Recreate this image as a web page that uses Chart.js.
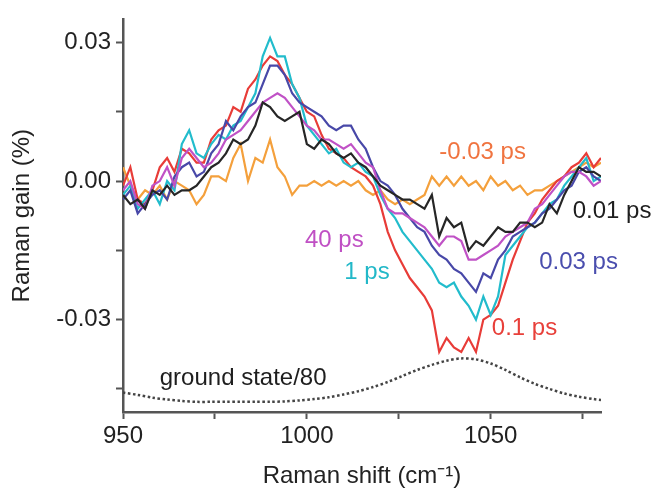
<!DOCTYPE html>
<html>
<head>
<meta charset="utf-8">
<script src="https://cdn.jsdelivr.net/npm/chart.js@4/dist/chart.umd.min.js"></script>
<style>
  html, body { margin: 0; padding: 0; background: #fff; }
  canvas { display: block; }
</style>
</head>
<body>
<canvas id="ramanChart" width="659" height="493"></canvas>
<script>
// Raman shift (cm-1), sampled every 2 cm-1
var shift = [950,952,954,956,958,960,962,964,966,968,
             970,972,974,976,978,980,982,984,986,988,
             990,992,994,996,998,1000,1002,1004,1006,1008,
             1010,1012,1014,1016,1018,1020,1022,1024,1026,1028,
             1030,1032,1034,1036,1038,1040,1042,1044,1046,1048,
             1050,1052,1054,1056,1058,1060,1062,1064,1066,1068,
             1070,1072,1074,1076,1078,1080];

// Raman gain (%) for each delay
var gainMinus003 = [0.003,-0.001,-0.004,-0.002,-0.003,-0.001,-0.004,0.000,-0.001,-0.002,
                    -0.005,-0.003,0.001,0.001,0.000,0.005,0.008,0.000,0.005,0.004,
                    0.009,0.003,0.001,-0.003,-0.001,-0.001,0.000,-0.001,0.000,-0.001,
                    0.000,-0.001,0.000,-0.002,-0.003,-0.002,-0.004,-0.005,-0.004,-0.005,
                    -0.004,-0.003,0.001,-0.001,0.001,-0.001,0.001,-0.001,0.000,-0.002,
                    0.001,-0.001,0.000,-0.002,-0.001,-0.003,-0.002,-0.002,-0.001,0.000,
                    0.001,0.002,0.003,0.004,0.003,0.004];
var gain001 = [-0.003,-0.005,-0.004,-0.006,-0.002,-0.003,-0.001,-0.003,-0.002,-0.002,
               -0.001,0.001,0.003,0.004,0.006,0.009,0.008,0.009,0.012,0.017,
               0.016,0.014,0.013,0.014,0.015,0.008,0.007,0.009,0.008,0.006,
               0.005,0.006,0.004,0.003,0.001,-0.001,-0.002,-0.003,-0.004,-0.004,
               -0.005,-0.006,-0.003,-0.012,-0.008,-0.010,-0.009,-0.015,-0.013,-0.014,
               -0.012,-0.010,-0.011,-0.011,-0.009,-0.009,-0.010,-0.009,-0.005,-0.007,
               -0.003,0.000,0.003,0.002,0.002,0.001];
var gain003 = [-0.004,-0.002,-0.007,-0.005,-0.003,-0.002,-0.004,0.001,0.003,0.004,
               0.001,0.002,0.006,0.008,0.013,0.011,0.014,0.016,0.017,0.021,
               0.025,0.025,0.023,0.019,0.017,0.016,0.015,0.014,0.012,0.011,
               0.012,0.012,0.009,0.007,0.003,0.000,-0.001,-0.003,-0.006,-0.008,
               -0.010,-0.011,-0.014,-0.016,-0.017,-0.019,-0.020,-0.022,-0.024,-0.020,
               -0.021,-0.017,-0.015,-0.012,-0.011,-0.010,-0.009,-0.007,-0.006,-0.004,
               -0.002,-0.001,0.002,0.003,0.001,0.000];
var gain01 = [-0.001,0.003,-0.004,-0.005,-0.002,0.003,0.005,0.002,0.007,0.006,
              0.004,0.004,0.009,0.011,0.012,0.016,0.015,0.020,0.022,0.025,
              0.027,0.026,0.023,0.021,0.018,0.015,0.014,0.010,0.007,0.006,
              0.005,0.003,0.002,0.001,-0.001,-0.005,-0.011,-0.015,-0.018,-0.021,
              -0.023,-0.025,-0.028,-0.037,-0.034,-0.036,-0.037,-0.034,-0.037,-0.030,
              -0.029,-0.027,-0.022,-0.017,-0.013,-0.009,-0.007,-0.004,-0.002,0.000,
              0.001,0.003,0.004,0.006,0.003,0.005];
var gain1 = [-0.003,-0.001,-0.006,-0.004,-0.002,-0.005,0.000,-0.002,0.008,0.011,
             0.006,0.005,0.008,0.010,0.009,0.012,0.013,0.016,0.019,0.027,
             0.031,0.027,0.027,0.021,0.018,0.012,0.010,0.008,0.006,0.007,
             0.004,0.003,0.004,0.002,0.001,-0.003,-0.006,-0.008,-0.011,-0.013,
             -0.015,-0.017,-0.019,-0.022,-0.023,-0.022,-0.025,-0.027,-0.030,-0.025,
             -0.029,-0.025,-0.016,-0.014,-0.012,-0.010,-0.009,-0.007,-0.005,-0.004,
             -0.001,0.001,0.003,0.005,0.000,0.001];
var gain40 = [-0.002,0.000,-0.005,-0.006,-0.001,0.000,0.003,-0.001,0.005,0.007,
              0.005,0.003,0.004,0.006,0.009,0.010,0.011,0.013,0.015,0.017,
              0.018,0.019,0.018,0.016,0.014,0.012,0.011,0.009,0.009,0.008,
              0.007,0.008,0.006,0.004,0.003,-0.002,-0.006,-0.007,-0.007,-0.008,
              -0.009,-0.010,-0.012,-0.014,-0.012,-0.012,-0.013,-0.017,-0.017,-0.016,
              -0.015,-0.014,-0.012,-0.011,-0.010,-0.009,-0.006,-0.005,-0.003,-0.001,
              0.001,0.002,0.002,0.001,-0.001,0.000];

// ground state spectrum (scaled by 1/80), every 4 cm-1
var groundShift = [950,954,958,962,966,970,974,978,982,986,990,994,998,1002,1006,1010,1014,
                   1018,1022,1026,1030,1034,1038,1042,1046,1050,1054,1058,1062,1066,1070,1074,1078,1080];
var groundState = [-0.0458,-0.0463,-0.0469,-0.0473,-0.0476,-0.0478,-0.0478,-0.0478,-0.0478,-0.0478,
                   -0.0478,-0.0477,-0.0475,-0.0472,-0.0468,-0.0462,-0.0455,-0.0446,-0.0435,-0.0422,
                   -0.0409,-0.0398,-0.0389,-0.0384,-0.0386,-0.0395,-0.0409,-0.0425,-0.0439,-0.0450,
                   -0.0460,-0.0467,-0.0472,-0.0474];

// axis ticks
var xTicks = [950, 975, 1000, 1025, 1050, 1075];
var xLabelled = [950, 1000, 1050];
var yTicks = [-0.045, -0.03, -0.015, 0, 0.015, 0.03];
var yLabelled = [-0.03, 0, 0.03];

// in-plot labels (left edge, in data units)
var labelText = ['-0.03 ps', '0.01 ps', '0.03 ps', '0.1 ps', '1 ps', '40 ps', 'ground state/80'];
var labelShift = [1036, 1072.3, 1063.2, 1050.3, 1010.2, 999.5, 960];
var labelGain = [0.0062, -0.0065, -0.0175, -0.0318, -0.0198, -0.0128, -0.0428];
var labelColor = ['#f07440', '#1e1e1e', '#4a4eae', '#e8403a', '#22b8c8', '#c050c4', '#1e1e1e'];

var FONT = "'Liberation Sans', Arial, sans-serif";

function toPoints(xs, ys) {
    return xs.map(function (x, i) { return { x: x, y: ys[i] }; });
}

function line(label, ys, color) {
    return {
        label: label,
        data: toPoints(shift, ys),
        borderColor: color,
        borderWidth: 2.2,
        pointRadius: 0,
        fill: false,
        tension: 0,
    };
}

// draws the text labels next to the curves
var curveLabels = {
    id: 'curveLabels',
    afterDatasetsDraw: function (chart) {
        var ctx = chart.ctx;
        var xs = chart.scales.x, ys = chart.scales.y;
        ctx.save();
        ctx.font = '24px ' + FONT;
        ctx.textAlign = 'left';
        ctx.textBaseline = 'middle';
        for (var i = 0; i < labelText.length; i++) {
            ctx.fillStyle = labelColor[i];
            ctx.fillText(labelText[i], xs.getPixelForValue(labelShift[i]), ys.getPixelForValue(labelGain[i]));
        }
        ctx.restore();
    }
};

var ctx = document.getElementById('ramanChart').getContext('2d');
var chart = new Chart(ctx, {
    type: 'line',
    data: {
        datasets: [
            line('0.01 ps', gain001, '#262626'),
            line('40 ps', gain40, '#c052c6'),
            line('0.03 ps', gain003, '#4848a8'),
            line('1 ps', gain1, '#22bccc'),
            line('0.1 ps', gain01, '#e83c38'),
            line('-0.03 ps', gainMinus003, '#f4a03c'),
            {
                label: 'ground state/80',
                data: toPoints(groundShift, groundState),
                borderColor: '#444',
                borderWidth: 2.5,
                borderDash: [2.5, 2.5],
                pointRadius: 0,
                fill: false,
                tension: 0.3,
            },
        ],
    },
    options: {
        responsive: false,
        animation: false,
        layout: { padding: { left: 0, right: 58, top: 15, bottom: 0 } },
        plugins: { legend: { display: false }, tooltip: { enabled: false } },
        scales: {
            x: {
                type: 'linear',
                min: 950,
                max: 1080,
                afterBuildTicks: function (s) { s.ticks = xTicks.map(function (v) { return { value: v }; }); },
                afterFit: function (s) { s.height = 81; },
                grid: { drawOnChartArea: false, tickLength: 7, tickWidth: 2, tickColor: '#555' },
                border: { color: '#555', width: 2.5 },
                ticks: {
                    autoSkip: false,
                    maxRotation: 0,
                    padding: 3,
                    color: '#222',
                    font: { family: FONT, size: 24 },
                    callback: function (v) { return xLabelled.indexOf(v) >= 0 ? String(v) : ''; },
                },
                title: {
                    display: true,
                    text: 'Raman shift (cm⁻¹)',
                    color: '#222',
                    font: { family: FONT, size: 24 },
                    padding: { top: 0, bottom: 2 },
                },
            },
            y: {
                min: -0.05,
                max: 0.035,
                afterBuildTicks: function (s) { s.ticks = yTicks.map(function (v) { return { value: v }; }); },
                afterFit: function (s) { s.width = 123; },
                grid: { drawOnChartArea: false, tickLength: 7, tickWidth: 2, tickColor: '#555' },
                border: { color: '#555', width: 2.5 },
                ticks: {
                    autoSkip: false,
                    padding: 5,
                    color: '#222',
                    font: { family: FONT, size: 24 },
                    callback: function (v) { return yLabelled.indexOf(v) >= 0 ? v.toFixed(2) : ''; },
                },
                title: {
                    display: true,
                    text: 'Raman gain (%)',
                    color: '#222',
                    font: { family: FONT, size: 24 },
                    padding: { top: 8, bottom: 0 },
                },
            },
        },
    },
    plugins: [curveLabels],
});
</script>
</body>
</html>
